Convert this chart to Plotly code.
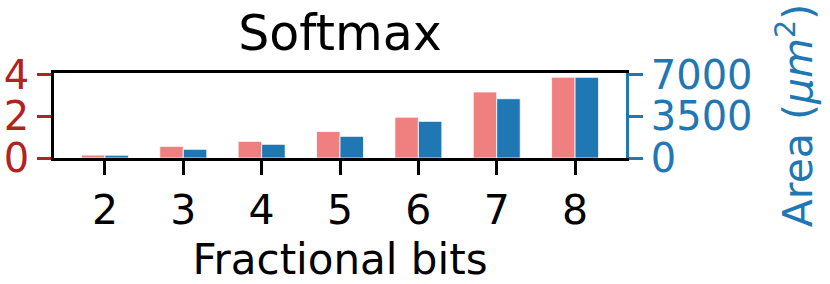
import plotly.graph_objects as go

bits = [2, 3, 4, 5, 6, 7, 8]
left_values = [0.14, 0.56, 0.80, 1.27, 1.96, 3.17, 3.88]
area_values = [230, 730, 1150, 1820, 3080, 4980, 6780]
left_ticks = [0, 2, 4]
area_ticks = [0, 3500, 7000]

RED = "#F08080"
RED_TXT = "#B22222"
BLUE = "#1f77b4"
FONT = "DejaVu Sans"

fig = go.Figure()
fig.add_trace(go.Bar(x=bits, y=left_values, width=0.3, offset=-0.3,
                     marker=dict(color=RED, line=dict(color="white", width=0.8)),
                     yaxis="y", showlegend=False))
fig.add_trace(go.Bar(x=bits, y=area_values, width=0.3, offset=0.0,
                     marker=dict(color=BLUE, line=dict(color="white", width=0.8)),
                     yaxis="y2", showlegend=False))

fig.update_layout(
    width=830, height=284, autosize=False,
    margin=dict(l=54, r=204, t=73, b=126, autoexpand=False),
    plot_bgcolor="white", paper_bgcolor="white",
    barmode="overlay",
    font=dict(family=FONT, size=41, color="black"),
    title=dict(text="Softmax", x=0.5, xanchor="center", xref="paper",
               y=1 - 33 / 284, yanchor="middle", yref="container",
               font=dict(size=49, family=FONT, color="black")),
    xaxis=dict(range=[1.35, 8.65], tickvals=bits, ticktext=[str(b) for b in bits],
               automargin=False,
               showline=True, linecolor="black", linewidth=2.5, mirror=True,
               ticks="outside", ticklen=14, tickwidth=2.5, tickcolor="black",
               showgrid=False, zeroline=False,
               tickfont=dict(size=41, family=FONT, color="black"),
               title=dict(text="Fractional bits", standoff=15,
                          font=dict(size=42, family=FONT, color="black"))),
    yaxis=dict(range=[0, 4.08], tickvals=left_ticks, automargin=False,
               showline=True, linecolor="black", linewidth=2.5,
               ticks="outside", ticklen=14, tickwidth=2.5, tickcolor=RED_TXT,
               showgrid=False, zeroline=False,
               tickfont=dict(size=40, family=FONT, color=RED_TXT)),
    yaxis2=dict(range=[0, 7140], tickvals=area_ticks, overlaying="y", side="right",
                automargin=False,
                showline=True, linecolor=BLUE, linewidth=2.5,
                ticks="outside", ticklen=14, tickwidth=2.5, tickcolor=BLUE,
                showgrid=False, zeroline=False,
                tickfont=dict(size=40, family=FONT, color=BLUE),
                title=dict(text="Area (<i>μm</i><sup>2</sup>)", standoff=32,
                           font=dict(size=41, family=FONT, color=BLUE))),
)

fig.write_html("out.html",
               config={"displayModeBar": False},
               post_script="document.body.style.margin='0';"
                           "document.body.style.overflow='hidden';")
